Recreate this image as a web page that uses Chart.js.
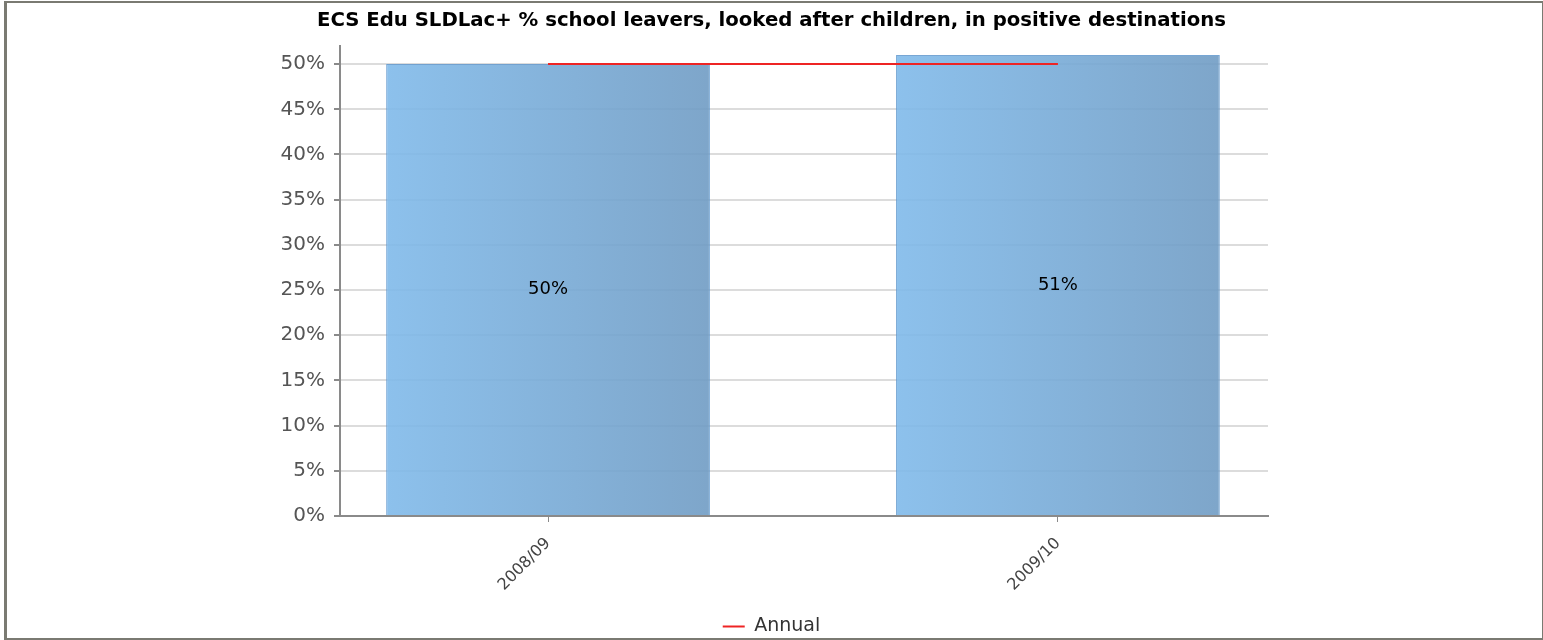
<!DOCTYPE html>
<html>
<head>
<meta charset="utf-8">
<title>ECS Edu SLDLac+</title>
<script src="https://cdn.jsdelivr.net/npm/chart.js@4/dist/chart.umd.min.js"></script>
<style>
    html, body { margin: 0; padding: 0; background: #fff; }
    #wrap { position: relative; width: 1543px; height: 640px; }
    #frame {
        position: absolute; left: 4px; top: 1px; width: 1539px; height: 639px;
        box-sizing: border-box; pointer-events: none;
        border-left: 3px solid #7a7a72; border-top: 2px solid #7a7a72;
        border-right: 1px solid #7a7a72; border-bottom: 2px solid #7a7a72;
    }
</style>
</head>
<body>
<div id="wrap">
    <canvas id="sensorChart" width="1543" height="640"></canvas>
    <div id="frame"></div>
</div>
<script>
// Chart data
const categories = ['2008/09', '2009/10'];
const positions = [0, 1];
const pctValues = [50, 51];
const annualValues = [50, 50];
const yTicks = [0, 5, 10, 15, 20, 25, 30, 35, 40, 45, 50];

const FONT = "'DejaVu Sans', Verdana, sans-serif";
const BAR_PCT = 0.635;

// Horizontal gradient for each bar
function barGradient(c) {
    const chart = c.chart;
    const x = chart.scales.x;
    if (!chart.chartArea || !x) return 'rgba(128,186,234,0.9)';
    const cx = x.getPixelForValue(positions[c.dataIndex]);
    const half = (x.getPixelForValue(1) - x.getPixelForValue(0)) * BAR_PCT / 2;
    const g = chart.ctx.createLinearGradient(cx - half, 0, cx + half, 0);
    g.addColorStop(0, 'rgba(128,186,234,0.9)');
    g.addColorStop(1, 'rgba(112,156,196,0.9)');
    return g;
}

// Value labels in the middle of each bar
const barLabels = {
    id: 'barLabels',
    afterDatasetsDraw(chart) {
        const meta = chart.getDatasetMeta(1);
        const ctx = chart.ctx;
        ctx.save();
        ctx.font = '18px ' + FONT;
        ctx.fillStyle = '#000';
        ctx.textAlign = 'center';
        ctx.textBaseline = 'middle';
        meta.data.forEach((bar, i) => {
            ctx.fillText(pctValues[i] + '%', bar.x, (bar.y + bar.base) / 2);
        });
        ctx.restore();
    }
};

const ctx = document.getElementById('sensorChart').getContext('2d');
const chart = new Chart(ctx, {
    type: 'bar',
    data: {
        datasets: [
            {
                type: 'line',
                label: 'Annual',
                data: positions.map((p, i) => ({ x: p, y: annualValues[i] })),
                borderColor: '#ee2424',
                backgroundColor: '#ee2424',
                borderWidth: 2,
                pointRadius: 0,
                pointStyle: 'line',
                fill: false
            },
            {
                type: 'bar',
                label: 'Value',
                data: positions.map((p, i) => ({ x: p, y: pctValues[i] })),
                backgroundColor: barGradient,
                borderColor: 'rgba(95,150,205,0.85)',
                borderWidth: 1,
                categoryPercentage: 1,
                barPercentage: BAR_PCT
            }
        ]
    },
    plugins: [barLabels],
    options: {
        responsive: false,
        animation: false,
        layout: { padding: { left: 0, right: 0, top: 0, bottom: -6 } },
        plugins: {
            title: {
                display: true,
                text: 'ECS Edu SLDLac+ % school leavers, looked after children, in positive destinations',
                color: '#000',
                font: { family: FONT, size: 19.7, weight: 'bold' },
                padding: { top: 9, bottom: 13.4 }
            },
            legend: {
                position: 'bottom',
                labels: {
                    filter: item => item.text === 'Annual',
                    usePointStyle: true,
                    pointStyleWidth: 22,
                    boxHeight: 19,
                    padding: 0,
                    color: '#333',
                    font: { family: FONT, size: 19 }
                }
            },
            tooltip: { enabled: false }
        },
        scales: {
            x: {
                type: 'linear',
                min: -0.408,
                max: 1.412,
                offset: false,
                afterBuildTicks: s => { s.ticks = positions.map(v => ({ value: v })); },
                afterFit: s => { s.height = 101; },
                grid: { offset: false, drawOnChartArea: false, tickLength: 6, tickColor: '#8a8a8a' },
                border: { color: '#8a8a8a', width: 2 },
                ticks: {
                    autoSkip: false,
                    minRotation: 45,
                    maxRotation: 45,
                    padding: 12,
                    color: '#444',
                    font: { family: FONT, size: 16 },
                    callback: (value, index) => categories[index]
                }
            },
            y: {
                min: 0,
                max: 52,
                afterBuildTicks: s => { s.ticks = yTicks.map(v => ({ value: v })); },
                afterFit: s => { s.width = 340; },
                grid: { color: '#dcdcdc', lineWidth: 2, tickLength: 6, tickColor: '#8a8a8a' },
                border: { color: '#8a8a8a', width: 2 },
                ticks: {
                    padding: 9,
                    color: '#555',
                    font: { family: FONT, size: 20 },
                    callback: value => value + '%'
                }
            },
            y2: {
                position: 'right',
                afterFit: s => { s.width = 275; },
                grid: { display: false },
                border: { display: false },
                ticks: { display: false }
            }
        }
    }
});
</script>
</body>
</html>
